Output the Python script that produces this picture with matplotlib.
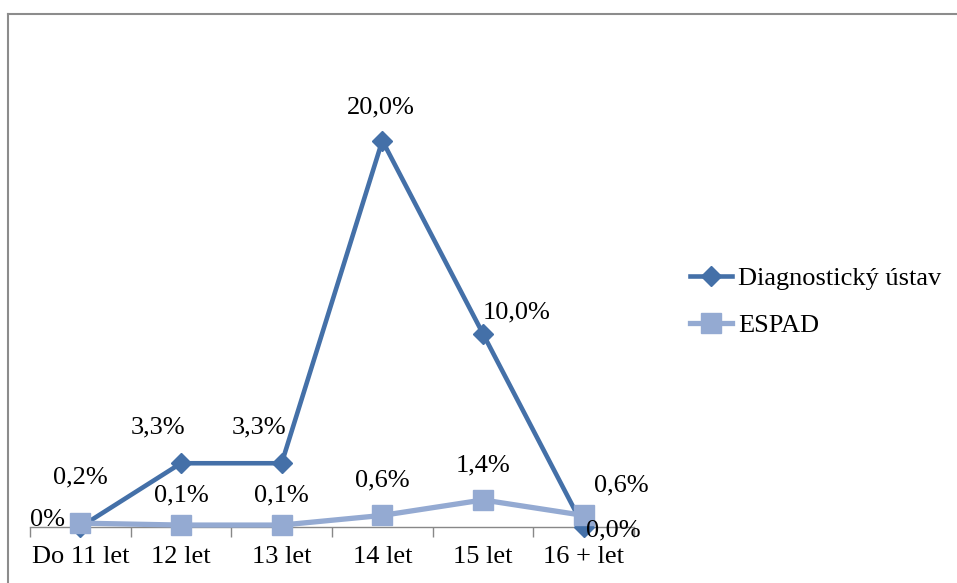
import matplotlib
matplotlib.use("Agg")
import matplotlib.pyplot as plt
from matplotlib.lines import Line2D

categories = ["Do 11 let", "12 let", "13 let", "14 let", "15 let", "16 + let"]
diag_values = [0.0, 3.3, 3.3, 20.0, 10.0, 0.0]
diag_labels = ["0%", "3,3%", "3,3%", "20,0%", "10,0%", "0,0%"]
espad_values = [0.2, 0.1, 0.1, 0.6, 1.4, 0.6]
espad_labels = ["0,2%", "0,1%", "0,1%", "0,6%", "1,4%", "0,6%"]
series_names = ["Diagnostický ústav", "ESPAD"]

plt.rcParams['font.family'] = ['Liberation Serif', 'DejaVu Serif']
FS = 19

W, H = 957, 583
fig = plt.figure(figsize=(W / 100, H / 100), dpi=100)
ax = fig.add_axes([30 / W, (H - 527) / H, 604 / W, (527 - 44) / H])

c_diag = '#4470A8'
c_espad = '#94AAD2'
x = list(range(len(categories)))

ax.plot(x, diag_values, color=c_diag, lw=3.3, marker='D', ms=10,
        clip_on=False, label=series_names[0], zorder=3)
ax.plot(x, espad_values, color=c_espad, lw=3.8, marker='s', ms=14,
        clip_on=False, label=series_names[1], zorder=4)

diag_off = [(-33, 7), (-23, 36), (-23, 36), (-2, 33), (34, 21), (30, -3)]
espad_off = [(0, 46), (0, 30), (0, 30), (0, 35), (0, 34), (38, 30)]
for i, (v, t) in enumerate(zip(diag_values, diag_labels)):
    ax.annotate(t, (i, v), xytext=diag_off[i], textcoords='offset pixels',
                ha='center', va='center', fontsize=FS, zorder=5,
                annotation_clip=False)
for i, (v, t) in enumerate(zip(espad_values, espad_labels)):
    ax.annotate(t, (i, v), xytext=espad_off[i], textcoords='offset pixels',
                ha='center', va='center', fontsize=FS, zorder=5,
                annotation_clip=False)

ax.set_xlim(-0.5, len(categories) - 0.5)
ax.set_ylim(0, 25)
ax.set_xticks(x)
ax.set_xticklabels(categories, fontsize=FS)
ax.set_xticks([i - 0.5 for i in range(len(categories) + 1)], minor=True)
ax.tick_params(axis='x', which='major', length=0, pad=14)
ax.tick_params(axis='x', which='minor', length=7.2, direction='out',
               color='#888888', width=1)
ax.set_yticks([])
for s in ['top', 'right', 'left']:
    ax.spines[s].set_visible(False)
ax.spines['bottom'].set_color('#888888')
ax.spines['bottom'].set_linewidth(1)
ax.patch.set_alpha(0)

fig.legend(loc='center left', bbox_to_anchor=(690 / W, (H - 302) / H),
           frameon=False, fontsize=FS, handlelength=1.6, handletextpad=0.23,
           labelspacing=0.9, borderpad=0, borderaxespad=0)

# outer frame (top and left edges)
fig.add_artist(Line2D([8 / W, 8 / W], [0, 1 - 14 / H], color='#8c8c8c', lw=1.5))
fig.add_artist(Line2D([8 / W, 1], [1 - 14 / H, 1 - 14 / H], color='#8c8c8c', lw=1.5))

fig.savefig('out.png', dpi=100)
